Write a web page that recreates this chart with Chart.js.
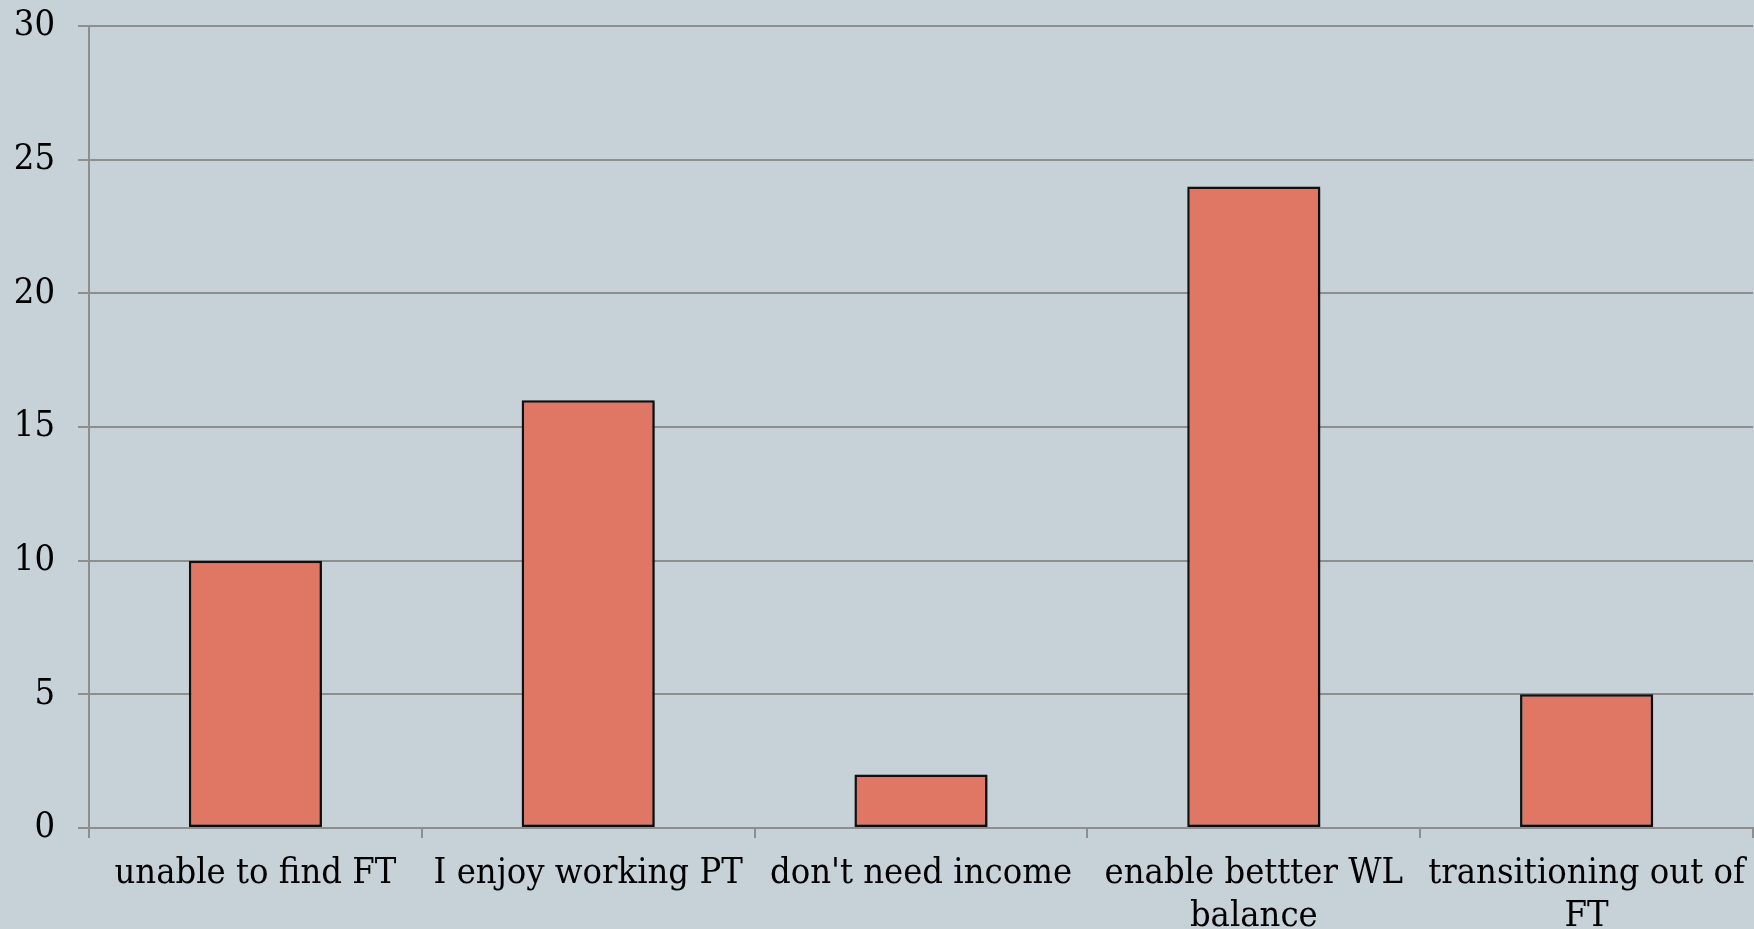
<!DOCTYPE html>
<html>
<head>
<meta charset="utf-8">
<script src="https://cdn.jsdelivr.net/npm/chart.js@4/dist/chart.umd.min.js"></script>
<style>
  html, body { margin: 0; padding: 0; background: #c6d1d8; overflow: hidden; }
  #wrap { width: 1754px; height: 929px; position: relative; }
</style>
</head>
<body>
<div id="wrap"><canvas id="c" width="1754" height="929"></canvas></div>
<script>
const categories = [
  "unable to find FT",
  "I enjoy working PT",
  "don't need income",
  ["enable bettter WL", "balance"],
  ["transitioning out of", "FT"]
];
const counts = [10, 16, 2, 24, 5];
const yTicks = [0, 5, 10, 15, 20, 25, 30];

const shadowPlugin = {
  id: 'barShadow',
  beforeDatasetsDraw(chart) {
    const ctx = chart.ctx;
    ctx.save();
    ctx.shadowColor = 'rgba(0,0,0,0.4)';
    ctx.shadowBlur = 4;
    ctx.shadowOffsetX = 2;
    ctx.shadowOffsetY = 2;
  },
  afterDatasetsDraw(chart) {
    chart.ctx.restore();
  }
};

const gridColor = '#8e8e8e';
const fontFamily = '"DejaVu Serif Condensed", "Liberation Serif", serif';

new Chart(document.getElementById('c'), {
  type: 'bar',
  data: {
    labels: categories,
    datasets: [{
      data: counts,
      backgroundColor: '#e07764',
      borderColor: '#111111',
      borderWidth: 2.5,
      borderSkipped: false,
      barPercentage: 0.4,
      categoryPercentage: 1.0
    }]
  },
  options: {
    responsive: false,
    animation: false,
    devicePixelRatio: 1,
    layout: { padding: { top: 26, right: 1, left: 0, bottom: 0 } },
    plugins: { legend: { display: false }, tooltip: { enabled: false } },
    scales: {
      x: {
        offset: true,
        grid: {
          display: true,
          drawOnChartArea: false,
          drawTicks: true,
          tickLength: 10,
          color: gridColor,
          lineWidth: 2,
          offset: true
        },
        border: { display: true, color: gridColor, width: 2 },
        ticks: {
          color: '#000',
          font: { family: fontFamily, size: 36, lineHeight: 1.2 },
          padding: 14,
          maxRotation: 0,
          minRotation: 0,
          autoSkip: false
        },
        afterFit(scale) { scale.height = 101; scale.paddingLeft = 0; scale.paddingRight = 0; }
      },
      y: {
        min: 0,
        max: 30,
        afterBuildTicks(scale) { scale.ticks = yTicks.map(v => ({ value: v })); },
        grid: {
          color: gridColor,
          lineWidth: 2,
          drawTicks: true,
          tickLength: 11
        },
        border: { display: true, color: gridColor, width: 2 },
        ticks: {
          color: '#000',
          font: { family: fontFamily, size: 36 },
          padding: 23
        },
        afterFit(scale) { scale.width = 89; scale.paddingTop = 0; scale.paddingBottom = 0; }
      }
    }
  },
  plugins: [shadowPlugin]
});
</script>
</body>
</html>
